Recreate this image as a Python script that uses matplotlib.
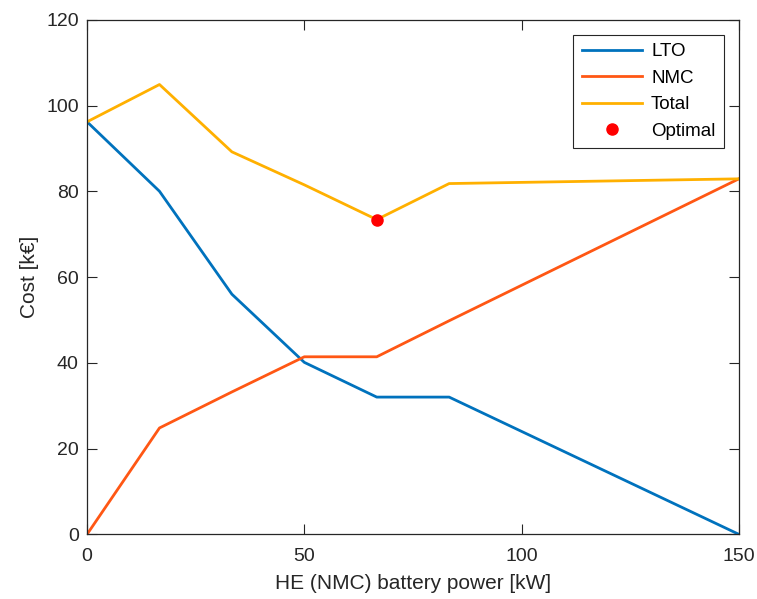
import matplotlib
matplotlib.use("Agg")
import matplotlib.pyplot as plt

plt.rcParams["font.family"] = ["Liberation Sans", "DejaVu Sans"]

# HE (NMC) battery power [kW]
power = [0, 16.67, 33.33, 50, 66.67, 83.33, 150]
lto_cost = [96.2, 80.0, 56.0, 40.1, 32.0, 32.0, 0.0]
nmc_cost = [0.0, 24.8, 33.2, 41.4, 41.4, 49.8, 82.9]
total_cost = [96.2, 104.9, 89.2, 81.5, 73.4, 81.8, 82.9]
optimal = (66.67, 73.4)

fig = plt.figure(figsize=(7.57, 5.99), dpi=100)
ax = fig.add_axes([0.115, 0.108, 0.861, 0.859])

ax.plot(power, lto_cost, color="#0072BD", lw=2, label="LTO")
ax.plot(power, nmc_cost, color="#FF5714", lw=2, label="NMC")
ax.plot(power, total_cost, color="#FFB000", lw=2, label="Total")
ax.plot([optimal[0]], [optimal[1]], "o", color="#FF0000", ms=8, ls="none", label="Optimal")

ax.set_xlim(0, 150)
ax.set_ylim(0, 120)
ax.set_xticks([0, 50, 100, 150])
ax.set_yticks(range(0, 121, 20))
ax.tick_params(direction="in", top=True, right=True, length=7, width=0.8,
               labelsize=14, colors="#262626")
ax.tick_params(axis="x", pad=10)
ax.tick_params(axis="y", pad=6)
for s in ax.spines.values():
    s.set_linewidth(0.9)
    s.set_color("#262626")
ax.set_xlabel("HE (NMC) battery power [kW]", fontsize=15, color="#262626", labelpad=6)
ax.set_ylabel("Cost [k€]", fontsize=15, color="#262626", labelpad=5)

leg = ax.legend(loc="upper right", bbox_to_anchor=(0.977, 0.971), borderaxespad=0,
                fontsize=13.5, fancybox=False, edgecolor="#262626", framealpha=1,
                handlelength=3.2, borderpad=0.45, labelspacing=0.5, handletextpad=0.5)
leg.get_frame().set_linewidth(0.8)

fig.savefig("out.png", dpi=100)
